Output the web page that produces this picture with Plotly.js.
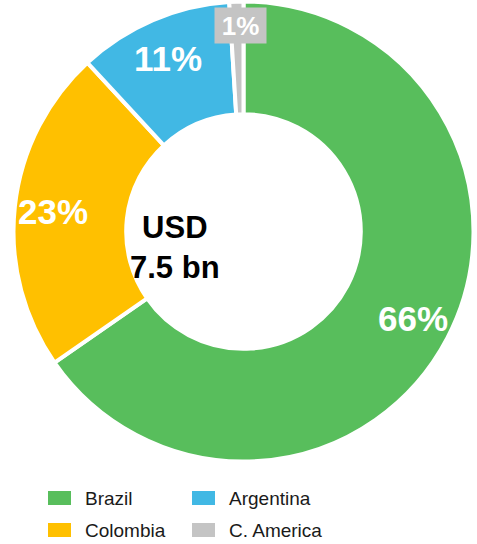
<!DOCTYPE html>
<html>
<head>
<meta charset="utf-8">
<script src="https://cdn.plot.ly/plotly-3.0.1.min.js"></script>
<style>html,body{margin:0;padding:0;background:#fff;}#chart{width:477px;height:544px;}</style>
</head>
<body>
<div id="chart"></div>
<script>
// Data
const categories = ["Brazil", "Colombia", "Argentina", "C. America"];
const shares = [66, 23, 11, 1];
const colors = ["#58BE5C", "#FFC000", "#41B8E4", "#C4C4C4"];
const centerLabel = ["USD", "7.5 bn"];
const legendOrder = ["Brazil", "Argentina", "Colombia", "C. America"];

const W = 477, H = 544;
const cx = 243.5, cy = 231.5, R = 230;
const FONT = "Liberation Sans, Arial, sans-serif";

const trace = {
  type: "pie",
  labels: categories,
  values: shares,
  textinfo: "none",
  hoverinfo: "label+value",
  sort: false,
  direction: "clockwise",
  rotation: 0,
  hole: 0.51,
  marker: {colors: colors, line: {color: "#ffffff", width: 4}},
  showlegend: false,
  domain: {x: [(cx - R) / W, (cx + R) / W], y: [1 - (cy + R) / H, 1 - (cy - R) / H]}
};

const annotations = [];
const shapes = [];

// percentage labels at mid-angle of each slice
const total = shares.reduce((a, b) => a + b, 0);
let cum = 0;
shares.forEach((v, i) => {
  const mid = (cum + v / 2) / total * 2 * Math.PI;
  cum += v;
  if (i === 3) return;
  const r = 188;
  const px = cx + r * Math.sin(mid) * 1.02;
  const py = cy - r * Math.cos(mid);
  annotations.push({
    xref: "paper", yref: "paper", x: px / W, y: 1 - py / H,
    text: "<b>" + v + "%</b>", showarrow: false,
    xanchor: "center", yanchor: "middle",
    font: {family: FONT, size: 35, color: "#ffffff"}
  });
});

// centre label
annotations.push({
  xref: "paper", yref: "paper", x: 175 / W, y: 1 - 247 / H,
  text: "<b>" + centerLabel.join("<br>") + "</b>",
  showarrow: false,
  font: {family: FONT, size: 31, color: "#000000"},
  xanchor: "center", yanchor: "middle"
});

// small slice label with grey box
annotations.push({
  xref: "paper", yref: "paper", x: 240.5 / W, y: 1 - 25.5 / H,
  text: "<b>" + shares[3] + "%</b>",
  showarrow: false,
  bgcolor: colors[3],
  width: 49, height: 33,
  font: {family: FONT, size: 26, color: "#ffffff"},
  xanchor: "center", yanchor: "middle"
});

// legend (2 columns)
const colX = [48, 192], rowY = [498, 530];
legendOrder.forEach((name, k) => {
  const i = categories.indexOf(name);
  const col = k % 2, row = Math.floor(k / 2);
  const x0 = colX[col], yc = rowY[row];
  shapes.push({
    type: "rect", xref: "paper", yref: "paper",
    x0: x0 / W, x1: (x0 + 23) / W, y0: 1 - (yc + 7) / H, y1: 1 - (yc - 7) / H,
    fillcolor: colors[i], line: {width: 0}
  });
  annotations.push({
    xref: "paper", yref: "paper", x: (x0 + 35) / W, y: 1 - yc / H,
    text: name, showarrow: false, xanchor: "left", yanchor: "middle",
    font: {family: FONT, size: 19, color: "#1a1a1a"}
  });
});

const layout = {
  width: W, height: H,
  margin: {l: 0, r: 0, t: 0, b: 0},
  paper_bgcolor: "#ffffff",
  showlegend: false,
  annotations: annotations,
  shapes: shapes
};

Plotly.newPlot("chart", [trace], layout, {displayModeBar: false, staticPlot: true});
</script>
</body>
</html>
